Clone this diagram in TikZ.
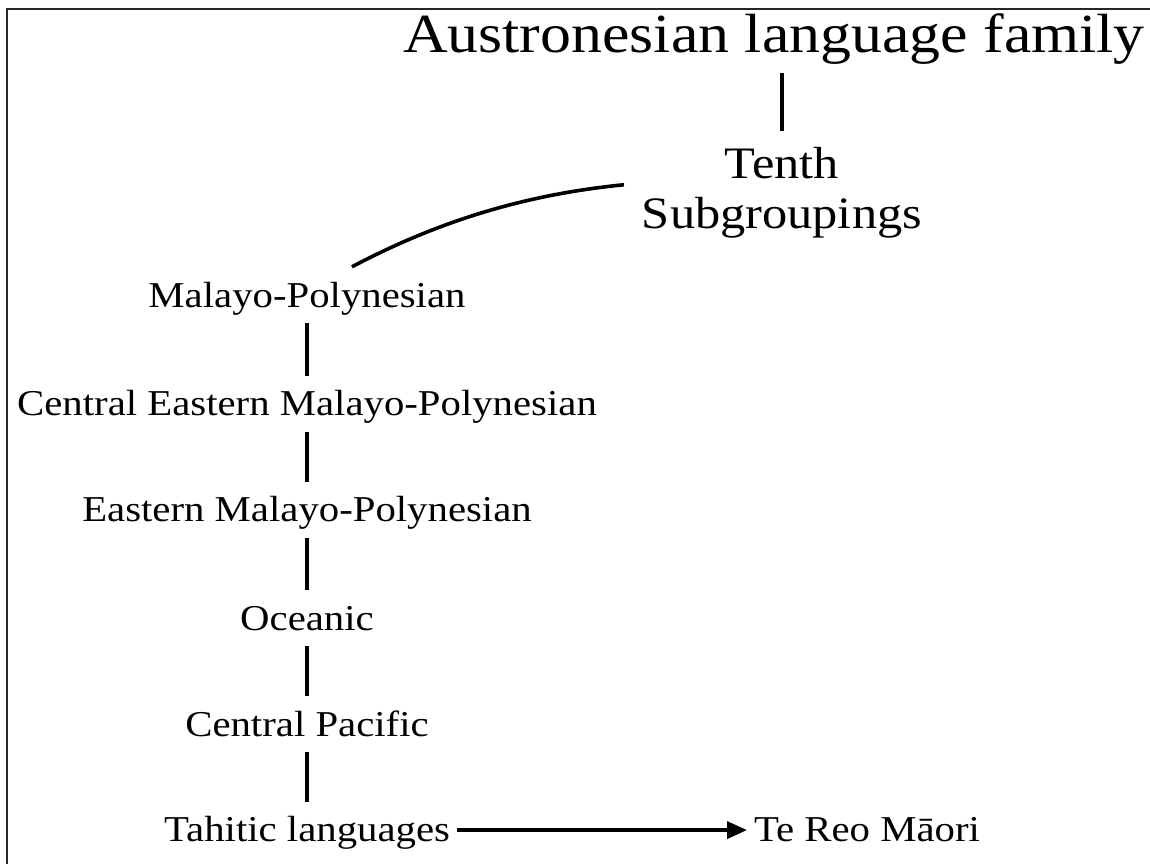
\documentclass[tikz,border=0pt]{standalone}
\usepackage{fontspec}
\setmainfont{Liberation Serif}[FakeStretch=1.12]
\usepackage{tikz}
\usetikzlibrary{arrows.meta,calc,positioning}
\tikzset{
  >={Triangle[length=10pt, width=8.5pt]},
  lframe/.style={black!85, line width=1.2pt},
  ltree/.style={black, line width=1.8pt},
  lname/.style={font=\fontsize{18.2}{21}\selectfont, text height=11.9pt, text depth=0pt,
                inner ysep=8pt},
  ltitle/.style={font=\fontsize{27.6}{32}\selectfont, text height=18pt, text depth=0pt,
                 inner ysep=10pt},
  lgroup/.style={font=\fontsize{22.5}{25}\selectfont, align=center, inner ysep=7.5pt},
}

\begin{document}
\begin{tikzpicture}[x=1cm,y=1cm]

  \useasboundingbox (0,0) rectangle (20.209,-15.183);
  \draw[lframe] (0.123,-15.4) |- (20.4,-0.158);

  \node[ltitle, anchor=base] (fam) at (13.601,-0.931) {Austronesian language family};
  % base of a two-line node sits on its last line
  \node[lgroup, anchor=base] (tenth) at (13.742,-4.007) {Tenth\\Subgroupings};

  \node[lname, anchor=base] (mp)   at (5.395,-5.395)  {Malayo-Polynesian};
  \node[lname, anchor=base] (cemp) at (5.395,-7.310)  {Central Eastern Malayo-Polynesian};
  \node[lname, anchor=base] (emp)  at (5.395,-9.173)  {Eastern Malayo-Polynesian};
  \node[lname, anchor=base] (oce)  at (5.395,-11.071) {Oceanic};
  \node[lname, anchor=base] (cpac) at (5.395,-12.934) {Central Pacific};
  \node[lname, anchor=base] (tah)  at (5.395,-14.796) {Tahitic languages};
  \node[lname, anchor=base west] (reo) at (13.127,-14.796) {Te Reo Māori};

  \draw[ltree] (tenth.north |- fam.south) -- (tenth.north);
  \draw[ltree] ([xshift=-5.5pt, yshift=3.75pt]tenth.west)
        .. controls +(-1.727,-0.170) and +(1.517,0.803) .. ([xshift=22.5pt]mp.north);
  \draw[ltree] (mp) -- (cemp);
  \draw[ltree] (cemp) -- (emp);
  \draw[ltree] (emp) -- (oce);
  \draw[ltree] (oce) -- (cpac);
  \draw[ltree] (cpac) -- (tah);
  \draw[ltree, ->] (tah) -- (reo);

\end{tikzpicture}
\end{document}
